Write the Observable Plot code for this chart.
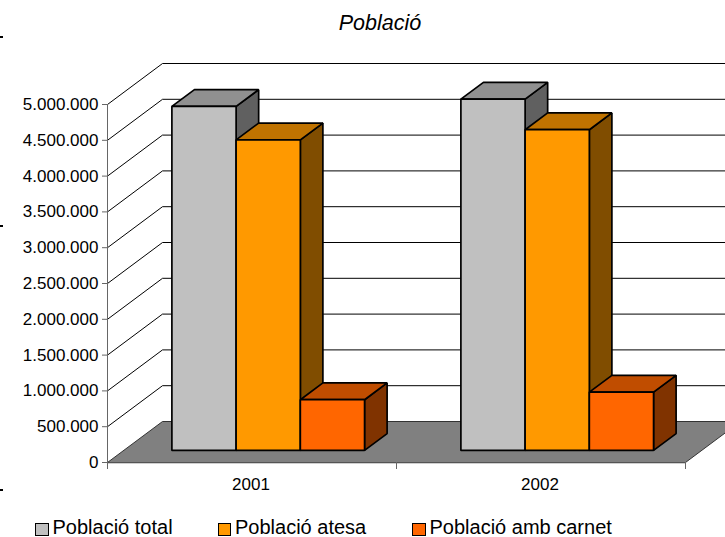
<!DOCTYPE html>
<html>
<head>
<meta charset="utf-8">
<script src="https://cdn.jsdelivr.net/npm/d3@7"></script>
<script src="https://cdn.jsdelivr.net/npm/@observablehq/plot@0.6"></script>
<style>
  html, body { margin: 0; padding: 0; background: #fff; overflow: hidden; }
  body { position: relative; width: 725px; height: 537px; font-family: "Liberation Sans", Arial, sans-serif; color: #000; }
  #title { position: absolute; left: 35px; width: 690px; top: 10px; text-align: center; font-style: italic; font-size: 21.5px; line-height: 26px; }
  #chart { position: absolute; left: 0; top: 30px; }
  #legend { position: absolute; left: 0; top: 514px; width: 725px; height: 23px; font-size: 20px; line-height: 23px; }
  .item { position: absolute; top: 2px; height: 23px; white-space: nowrap; }
  .sw { display: inline-block; box-sizing: border-box; width: 13.5px; height: 13.5px; border: 1.8px solid #000; vertical-align: -2px; margin-right: 4px; }
  .handle { position: absolute; left: 0; width: 3px; height: 2px; background: #000; }
</style>
</head>
<body>
<div id="title">Població</div>
<div id="chart"></div>
<div id="legend"></div>
<div class="handle" style="top:36px"></div>
<div class="handle" style="top:225px"></div>
<div class="handle" style="top:489px"></div>
<script>
const categories = ["2001", "2002"];
const seriesNames = ["Població total", "Població atesa", "Població amb carnet"];
const poblacioTotal = [4804000, 4906000];
const poblacioAtesa = [4337000, 4479000];
const poblacioCarnet = [708000, 814000];
const yTicks = [0, 500000, 1000000, 1500000, 2000000, 2500000, 3000000, 3500000, 4000000, 4500000, 5000000];
const frontColors = ["#C0C0C0", "#FF9900", "#FF6600"];
const topColors = ["#909090", "#C07300", "#C04D00"];
const sideColors = ["#606060", "#804D00", "#803300"];

const seriesValues = [poblacioTotal, poblacioAtesa, poblacioCarnet];

// Oblique 3D projection in data units: depth 0 = front of the floor, depth 1 = back wall
const yMax = 5000000;
const depthX = 55 / 289;
const depthY = yMax * 41 / 358;
const xEnd = 618 / 289;
const gapEdge = 1 / 6, barWidth = 2 / 9;
const d0 = 0.295, d1 = 0.705;
const P = (c, v, d) => ({x: c + d * depthX, y: v + d * depthY});

const faces = [];
const addFace = (id, fill, pts) => pts.forEach(p => faces.push({id, fill, ...p}));
categories.forEach((cat, c) => {
  seriesValues.forEach((vals, s) => {
    const xa = c + gapEdge + s * barWidth, xb = xa + barWidth, v = vals[c];
    addFace(`${c}-${s}-side`, sideColors[s], [P(xb, 0, d0), P(xb, 0, d1), P(xb, v, d1), P(xb, v, d0)]);
    addFace(`${c}-${s}-top`, topColors[s], [P(xa, v, d0), P(xa, v, d1), P(xb, v, d1), P(xb, v, d0)]);
    addFace(`${c}-${s}-front`, frontColors[s], [P(xa, 0, d0), P(xa, v, d0), P(xb, v, d0), P(xb, 0, d0)]);
  });
});

const floor = [P(0, 0, 0), P(0, 0, 1), P(categories.length, 0, 1), P(categories.length, 0, 0)];
const grid = yTicks.filter(v => v > 0).flatMap(v =>
  [P(0, v, 0), P(0, v, 1), P(xEnd, v, 1)].map(p => ({...p, v}))
);

const fmt = d3.formatLocale({decimal: ",", thousands: ".", grouping: [3], currency: ["", "€"]}).format(",d");
const FS = 17;

const plot = Plot.plot({
  width: 725,
  height: 480,
  marginLeft: 107,
  marginRight: 0,
  marginTop: 33,
  marginBottom: 48,
  style: {fontFamily: '"Liberation Sans", Arial, sans-serif', fontSize: FS + "px", background: "transparent", color: "#000"},
  x: {type: "linear", domain: [0, xEnd], axis: null},
  y: {type: "linear", domain: [0, yMax + depthY], axis: null},
  color: {type: "identity"},
  marks: [
    Plot.line(grid, {x: "x", y: "y", z: "v", stroke: "#000", strokeWidth: 1, clip: true}),
    Plot.line(floor, {x: "x", y: "y", curve: "linear-closed", fill: "#808080", stroke: "#333", strokeWidth: 1}),
    Plot.ruleX([0], {y1: 0, y2: yMax, stroke: "#666", strokeWidth: 1}),
    Plot.axisY({ticks: yTicks, tickFormat: fmt, tickSize: 5, tickPadding: 4, stroke: "#666", fill: "#000", label: null, anchor: "left"}),
    Plot.axisX({ticks: [0, 1, 2], tickFormat: () => "", tickSize: 7, stroke: "#666", label: null, anchor: "bottom"}),
    Plot.axisX({ticks: categories.map((_, i) => i + 0.5), tickFormat: (_, i) => categories[i], tickSize: 0, tickPadding: 15, dx: -1, fontSize: FS, fill: "#000", label: null, anchor: "bottom"}),
    Plot.line(faces, {x: "x", y: "y", z: "id", fill: "fill", stroke: "#000", strokeWidth: 1.7, curve: "linear-closed", strokeLinejoin: "miter"})
  ]
});
document.getElementById("chart").appendChild(plot);

const legendLefts = [35, 217.5, 412];
const legend = document.getElementById("legend");
seriesNames.forEach((name, i) => {
  const item = document.createElement("span");
  item.className = "item";
  item.style.left = legendLefts[i] + "px";
  const sw = document.createElement("span");
  sw.className = "sw";
  sw.style.background = frontColors[i];
  item.appendChild(sw);
  item.appendChild(document.createTextNode(name));
  legend.appendChild(item);
});
</script>
</body>
</html>
